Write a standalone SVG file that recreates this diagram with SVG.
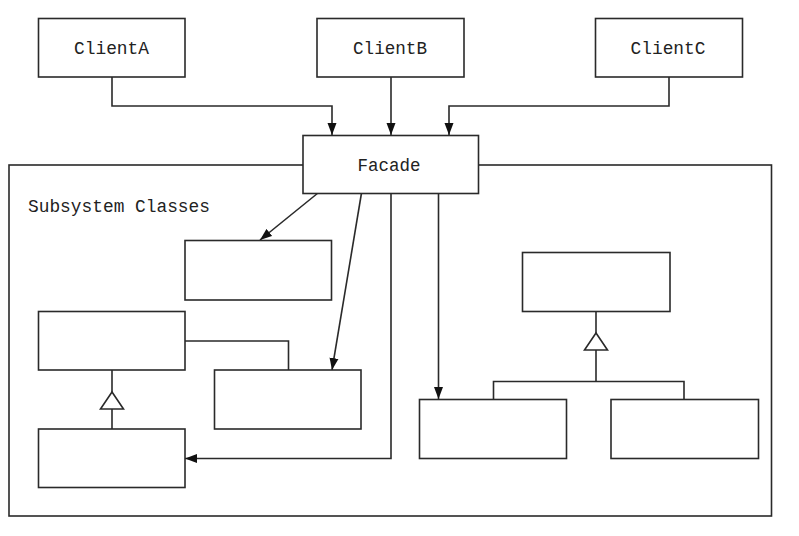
<svg xmlns="http://www.w3.org/2000/svg" width="799" height="536" viewBox="0 0 799 536">
<style>
.box{fill:#fff;stroke:#2a2a2a;stroke-width:1.6}
.ln{fill:none;stroke:#2a2a2a;stroke-width:1.6}
.lbl{font-family:"Liberation Mono","DejaVu Sans Mono",monospace;font-size:19px;fill:#222}
</style>
<defs>
<marker id="arr" viewBox="0 0 12 10" refX="12" refY="5" markerWidth="12" markerHeight="10" markerUnits="userSpaceOnUse" orient="auto">
<path d="M0,0.5 L12,5 L0,9.5 Z" fill="#111"/>
</marker>
</defs>
<rect width="799" height="536" fill="#fff"/>
<g id="subsystem">
<rect class="box" x="9" y="165" width="762.5" height="351"/>
<text class="lbl" x="28" y="212" textLength="182" lengthAdjust="spacingAndGlyphs">Subsystem Classes</text>
</g>
<g id="connectors">
<polyline class="ln" points="112,77 112,106 332,106 332,135" marker-end="url(#arr)"/>
<polyline class="ln" points="391,77 391,135" marker-end="url(#arr)"/>
<polyline class="ln" points="669,77 669,106 449,106 449,135" marker-end="url(#arr)"/>
<line class="ln" x1="318" y1="193" x2="260" y2="240" marker-end="url(#arr)"/>
<line class="ln" x1="361.5" y1="193" x2="332" y2="370" marker-end="url(#arr)"/>
<polyline class="ln" points="391,193 391,458.5 185,458.5" marker-end="url(#arr)"/>
<polyline class="ln" points="438.5,193 438.5,399" marker-end="url(#arr)"/>
<polyline class="ln" points="185,341 288.5,341 288.5,370"/>
<line class="ln" x1="112" y1="370" x2="112" y2="392"/>
<line class="ln" x1="112" y1="409" x2="112" y2="429"/>
<polygon class="box" points="112,392 100.5,409 123.5,409"/>
<line class="ln" x1="596" y1="311.5" x2="596" y2="333"/>
<line class="ln" x1="596" y1="350" x2="596" y2="381.5"/>
<polygon class="box" points="596,333 584.5,350 607.5,350"/>
<polyline class="ln" points="493.5,399 493.5,381.5 684,381.5 684,399"/>
</g>
<g id="clientA"><rect class="box" x="38.5" y="18.5" width="146.5" height="58.5"/><text class="lbl" x="111.5" y="53.5" text-anchor="middle" textLength="75" lengthAdjust="spacingAndGlyphs">ClientA</text></g>
<g id="clientB"><rect class="box" x="317" y="18.5" width="147" height="58.5"/><text class="lbl" x="390" y="53.5" text-anchor="middle" textLength="74" lengthAdjust="spacingAndGlyphs">ClientB</text></g>
<g id="clientC"><rect class="box" x="595.5" y="18.5" width="147" height="58.5"/><text class="lbl" x="668" y="53.5" text-anchor="middle" textLength="75" lengthAdjust="spacingAndGlyphs">ClientC</text></g>
<g id="facade"><rect class="box" x="303" y="135.5" width="175.5" height="58"/><text class="lbl" x="389" y="171" text-anchor="middle" textLength="63" lengthAdjust="spacingAndGlyphs">Facade</text></g>
<g id="class1"><rect class="box" x="185" y="240.5" width="146.5" height="59.5"/></g>
<g id="class2"><rect class="box" x="38.5" y="311.5" width="146.5" height="58.5"/></g>
<g id="class3"><rect class="box" x="214.5" y="370" width="146.5" height="59"/></g>
<g id="class4"><rect class="box" x="38.5" y="429" width="146.5" height="58.5"/></g>
<g id="class5"><rect class="box" x="522.5" y="252.5" width="147.5" height="59"/></g>
<g id="class6"><rect class="box" x="419.5" y="399.5" width="147" height="59"/></g>
<g id="class7"><rect class="box" x="611" y="399.5" width="147.5" height="59"/></g>
</svg>
